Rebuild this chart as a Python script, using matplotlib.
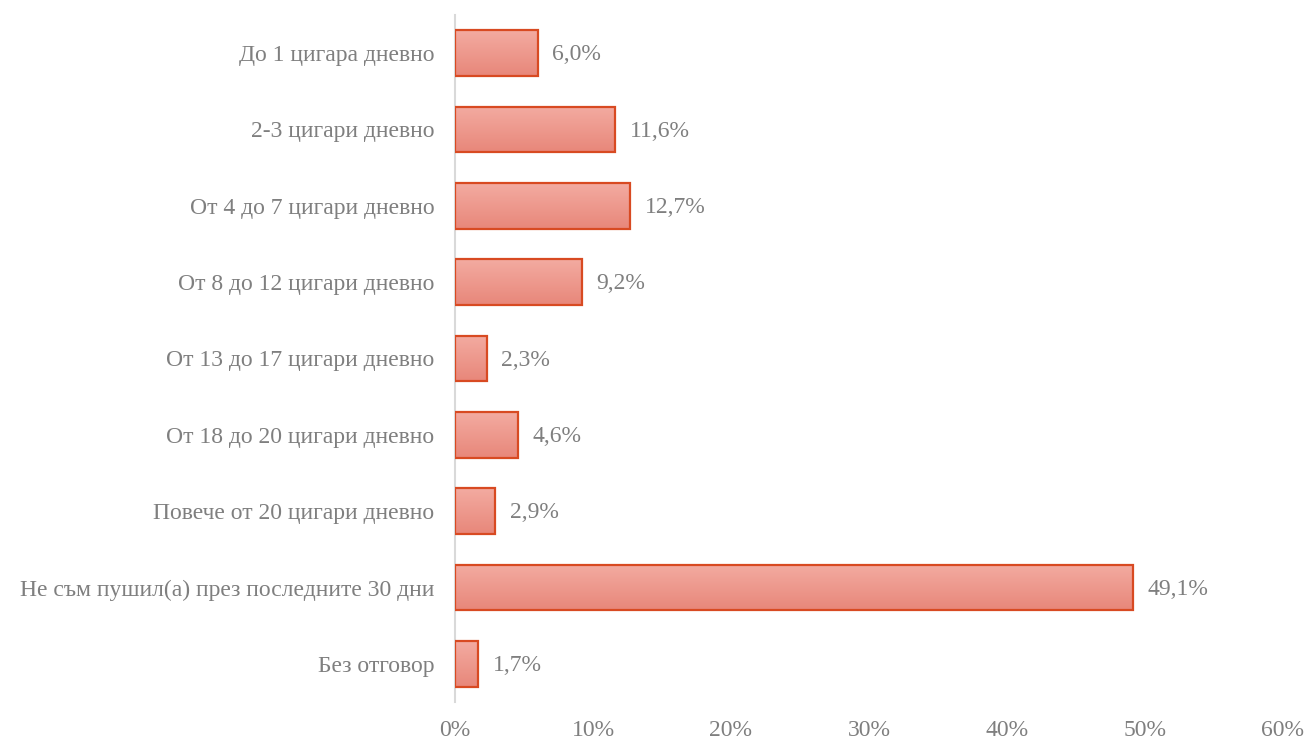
import matplotlib.pyplot as plt
import numpy as np
from matplotlib.colors import LinearSegmentedColormap

categories = [
    'До 1 цигара дневно',
    '2-3 цигари дневно',
    'От 4 до 7 цигари дневно',
    'От 8 до 12 цигари дневно',
    'От 13 до 17 цигари дневно',
    'От 18 до 20 цигари дневно',
    'Повече от 20 цигари дневно',
    'Не съм пушил(а) през последните 30 дни',
    'Без отговор',
]
values = [6.0, 11.6, 12.7, 9.2, 2.3, 4.6, 2.9, 49.1, 1.7]
xticks = [0, 10, 20, 30, 40, 50, 60]

plt.rcParams['font.family'] = ['Liberation Serif', 'DejaVu Serif']
grey = '#7f7f7f'
fs = 17

fig = plt.figure(figsize=(13.06, 7.4), dpi=100)
ax = fig.add_axes([455 / 1306, 1 - 702 / 740, (1283 - 455) / 1306, (702 - 15) / 740])

y = np.arange(len(categories))
bars = ax.barh(y, values, height=0.6, color='none', edgecolor='#d84a22', linewidth=1.6, zorder=3)

# vertical gradient inside each bar
cmap = LinearSegmentedColormap.from_list('grad', ['#f3aba1', '#e8877a'])
grad = np.linspace(0, 1, 100).reshape(-1, 1)
for b in bars:
    x0, y0 = b.get_x(), b.get_y()
    w, h = b.get_width(), b.get_height()
    im = ax.imshow(grad, cmap=cmap, aspect='auto', extent=[x0, x0 + w, y0 + h, y0],
                   origin='upper', zorder=2)
    im.set_clip_path(b)

for yi, v in zip(y, values):
    ax.text(v + 1.05, yi + 0.02, f'{v:.1f}%'.replace('.', ','), va='center', ha='left',
            fontsize=fs, color=grey)

ax.set_xlim(0, 60)
ax.set_ylim(len(categories) - 0.5, -0.5)
ax.set_yticks(y)
ax.set_yticklabels(categories, fontsize=fs, color=grey)
ax.set_xticks(xticks)
ax.set_xticklabels([f'{t}%' for t in xticks], fontsize=fs, color=grey)
ax.tick_params(axis='both', length=0)
ax.tick_params(axis='y', pad=15)
ax.tick_params(axis='x', pad=13)
for s in ['top', 'right', 'bottom']:
    ax.spines[s].set_visible(False)
ax.spines['left'].set_color('#d9d9d9')
ax.spines['left'].set_linewidth(1.5)
ax.spines['left'].set_zorder(1)

fig.savefig('out.png', dpi=100)
